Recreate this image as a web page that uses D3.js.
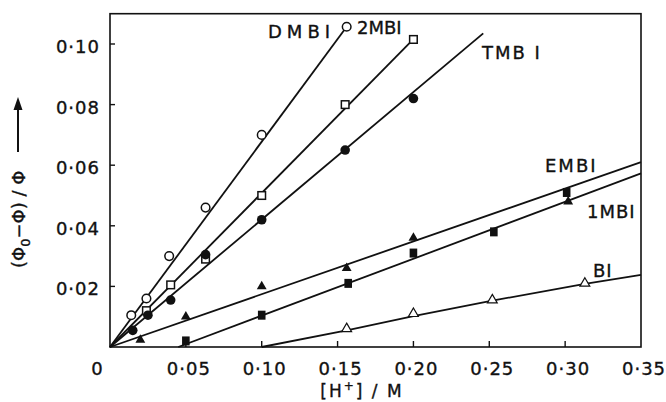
<!DOCTYPE html>
<html>
<head>
<meta charset="utf-8">
<script src="https://d3js.org/d3.v7.min.js"></script>
<style>
  body { margin: 0; background: #fff; }
  text { font-family: "DejaVu Sans", sans-serif; fill: #111; stroke: #111; stroke-width: 0.35px; }
  .fit { fill: none; stroke: #111; stroke-width: 1.8px; }
</style>
</head>
<body>
<script>
// tick values
var xTicks = [0.05, 0.10, 0.15, 0.20, 0.25, 0.30, 0.35];
var yTicks = [0.02, 0.04, 0.06, 0.08, 0.10];

// measured points [H+], (phi0-phi)/phi
var dmbi = [[0.014,0.0105],[0.024,0.016],[0.039,0.030],[0.063,0.046],[0.100,0.070],[0.156,0.1057]];
var mbi2 = [[0.024,0.012],[0.040,0.0205],[0.063,0.029],[0.100,0.050],[0.155,0.080],[0.200,0.1015]];
var tmbi = [[0.015,0.0055],[0.025,0.0105],[0.040,0.0155],[0.063,0.0305],[0.100,0.042],[0.155,0.065],[0.200,0.082]];
var triFilled = [[0.020,0.0023],[0.050,0.010],[0.100,0.020],[0.156,0.026],[0.200,0.036],[0.302,0.048]];
var sqFilled = [[0.050,0.002],[0.100,0.0105],[0.157,0.021],[0.200,0.031],[0.253,0.038],[0.301,0.051]];
var bi = [[0.156,0.006],[0.200,0.011],[0.252,0.0155],[0.313,0.021]];

// fitted lines
var lineDMBI = [[0,0],[0.156,0.1057]];
var line2MBI = [[0,0],[0.200,0.1016]];
var lineTMBI = [[0,0],[0.246,0.1035]];
var lineEMBI = [[0,0],[0.35,0.061]];
var line1MBI = [[0.045,0],[0.35,0.0573]];
var lineBI = [[0.10,0],[0.156,0.0055],[0.20,0.0102],[0.252,0.0153],[0.313,0.0208],[0.35,0.0238]];

var svg = d3.select("body").append("svg")
    .attr("width", 666)
    .attr("height", 402);

var x = d3.scaleLinear().domain([0, 0.35]).range([110, 641]);
var y = d3.scaleLinear().domain([0, 0.11]).range([347, 13.7]);

var fmt = function (d) { return d3.format(".2f")(d).replace(".", "\u00b7"); };

// frame
svg.append("rect")
    .attr("x", x(0)).attr("y", y(0.11))
    .attr("width", x(0.35) - x(0)).attr("height", y(0) - y(0.11))
    .attr("fill", "none").attr("stroke", "#111").attr("stroke-width", 1.6);

// x ticks (inward)
svg.selectAll(".xt").data(xTicks.slice(0, -1)).enter().append("line")
    .attr("x1", function (d) { return x(d); }).attr("x2", function (d) { return x(d); })
    .attr("y1", y(0)).attr("y2", y(0) - 6)
    .attr("stroke", "#111").attr("stroke-width", 1.4);
svg.selectAll(".xl").data(xTicks).enter().append("text")
    .attr("x", function (d) { return x(d) + 3; })
    .attr("y", 375)
    .attr("text-anchor", "middle")
    .style("font-size", "18px").style("letter-spacing", "1px")
    .text(fmt);
svg.append("text").attr("x", 97).attr("y", 375).attr("text-anchor", "middle")
    .style("font-size", "18px").text("0");

// y ticks (inward)
svg.selectAll(".yt").data(yTicks).enter().append("line")
    .attr("x1", x(0)).attr("x2", x(0) + 5)
    .attr("y1", function (d) { return y(d); }).attr("y2", function (d) { return y(d); })
    .attr("stroke", "#111").attr("stroke-width", 1.4);
svg.selectAll(".yl").data(yTicks).enter().append("text")
    .attr("x", 100)
    .attr("y", function (d) { return y(d) + 9; })
    .attr("text-anchor", "end")
    .style("font-size", "18px").style("letter-spacing", "1px")
    .text(fmt);

// axis titles
var xt = svg.append("text").attr("x", 362).attr("y", 397).attr("text-anchor", "middle")
    .style("font-size", "17px").style("letter-spacing", "2px");
xt.append("tspan").text("[H");
xt.append("tspan").attr("dy", -7).style("font-size", "12px").text("+");
xt.append("tspan").attr("dy", 7).text("] / M");

var yt = svg.append("text").attr("transform", "translate(25,268) rotate(-90)")
    .style("font-size", "18px");
yt.append("tspan").text("(\u03a6");
yt.append("tspan").attr("dy", 5).style("font-size", "13px").text("0");
yt.append("tspan").attr("dy", -5).text("\u2212\u03a6) / \u03a6");

svg.append("line").attr("x1", 18).attr("x2", 18).attr("y1", 152).attr("y2", 108)
    .attr("stroke", "#111").attr("stroke-width", 2);
svg.append("path").attr("d", "M18,97 L13.5,110 L22.5,110 Z").attr("fill", "#111");

// fitted lines
var line = d3.line().x(function (d) { return x(d[0]); }).y(function (d) { return y(d[1]); });
[lineDMBI, line2MBI, lineTMBI, lineEMBI, line1MBI, lineBI].forEach(function (l) {
    svg.append("path").datum(l).attr("class", "fit").attr("d", line);
});

// markers
svg.selectAll(".oc").data(dmbi).enter().append("circle")
    .attr("cx", function (d) { return x(d[0]); }).attr("cy", function (d) { return y(d[1]); })
    .attr("r", 4.3).attr("fill", "#fff").attr("stroke", "#111").attr("stroke-width", 1.5);
svg.selectAll(".os").data(mbi2).enter().append("rect")
    .attr("x", function (d) { return x(d[0]) - 3.8; }).attr("y", function (d) { return y(d[1]) - 3.8; })
    .attr("width", 7.6).attr("height", 7.6)
    .attr("fill", "#fff").attr("stroke", "#111").attr("stroke-width", 1.5);
svg.selectAll(".fc").data(tmbi).enter().append("circle")
    .attr("cx", function (d) { return x(d[0]); }).attr("cy", function (d) { return y(d[1]); })
    .attr("r", 4.8).attr("fill", "#111");
svg.selectAll(".fs").data(sqFilled).enter().append("rect")
    .attr("x", function (d) { return x(d[0]) - 3.8; }).attr("y", function (d) { return y(d[1]) - 4.5; })
    .attr("width", 7.6).attr("height", 9).attr("fill", "#111");
var tri = d3.symbol().type(d3.symbolTriangle).size(42);
svg.selectAll(".ft").data(triFilled).enter().append("path")
    .attr("transform", function (d) { return "translate(" + x(d[0]) + "," + y(d[1]) + ")"; })
    .attr("d", tri).attr("fill", "#111");
svg.selectAll(".ot").data(bi).enter().append("path")
    .attr("transform", function (d) { return "translate(" + x(d[0]) + "," + y(d[1]) + ")"; })
    .attr("d", tri).attr("fill", "#fff").attr("stroke", "#111").attr("stroke-width", 1.2);

// series labels
var labels = [
    {t: "DMBI", x: 268, y: 38, ls: 5},
    {t: "2MBI", x: 357, y: 34, ls: 0},
    {t: "TMB I", x: 482, y: 59, ls: 2},
    {t: "EMBI", x: 545, y: 172, ls: 2},
    {t: "1MBI", x: 587, y: 218, ls: 1},
    {t: "BI", x: 593, y: 277, ls: 1}
];
svg.selectAll(".lab").data(labels).enter().append("text")
    .attr("x", function (d) { return d.x; }).attr("y", function (d) { return d.y; })
    .style("font-size", "18px")
    .style("letter-spacing", function (d) { return d.ls + "px"; })
    .text(function (d) { return d.t; });
</script>
</body>
</html>
